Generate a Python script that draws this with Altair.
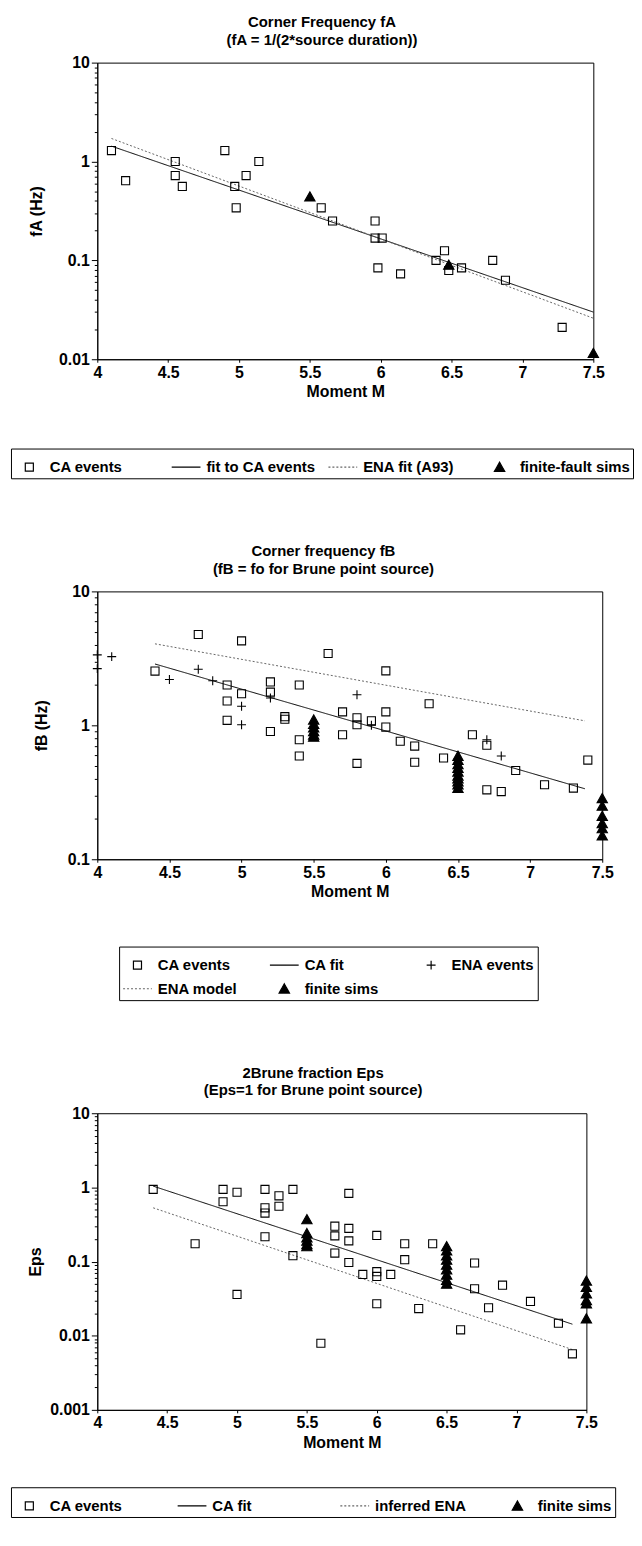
import altair as alt
import pandas as pd

FONT = "Liberation Sans"

# ---------------- Panel 1 : Corner Frequency fA ----------------
p1_series = ["CA events", "fit to CA events", "ENA fit (A93)", "finite-fault sims"]
p1_ca_m = [4.1, 4.2, 4.55, 4.55, 4.6, 4.9, 4.97, 4.98, 5.05, 5.14, 5.58, 5.66,
           5.96, 5.96, 6.01, 5.98, 6.14, 6.39, 6.45, 6.48, 6.57, 6.79, 6.88, 7.28]
p1_ca_f = [1.29, 0.64, 1.0, 0.72, 0.56, 1.29, 0.56, 0.34, 0.72, 1.0, 0.34, 0.25,
           0.25, 0.168, 0.168, 0.084, 0.073, 0.1, 0.125, 0.079, 0.084, 0.1, 0.063, 0.021]
p1_sim_m = [5.5, 6.48, 7.5]
p1_sim_f = [0.44, 0.09, 0.0115]
p1_fit_m = [4.1, 7.5]
p1_fit_f = [1.43, 0.030]
p1_ena_m = [4.1, 7.5]
p1_ena_f = [1.71, 0.026]

# ---------------- Panel 2 : Corner frequency fB ----------------
p2_series = ["CA events", "CA fit", "ENA events", "ENA model", "finite sims"]
p2_ca_m = [4.4, 4.7, 4.9, 4.9, 4.9, 5.0, 5.0, 5.2, 5.2, 5.2, 5.3, 5.3, 5.4, 5.4, 5.4,
           5.6, 5.7, 5.7, 5.8, 5.8, 5.8, 5.9, 6.0, 6.0, 6.0, 6.1, 6.2, 6.2, 6.3, 6.4,
           6.6, 6.7, 6.7, 6.8, 6.9, 7.1, 7.3, 7.4]
p2_ca_f = [2.54, 4.77, 2.0, 1.52, 1.09, 4.27, 1.72, 2.11, 1.77, 0.90, 1.16, 1.11, 2.0, 0.78, 0.59,
           3.44, 1.26, 0.85, 1.14, 1.01, 0.52, 1.08, 2.55, 1.26, 0.97, 0.76, 0.70, 0.53, 1.45, 0.57,
           0.85, 0.71, 0.33, 0.32, 0.46, 0.36, 0.34, 0.55]
p2_ena_m = [4.0, 4.0, 4.1, 4.5, 4.7, 4.8, 5.0, 5.0, 5.2, 5.8, 5.9, 6.7, 6.8]
p2_ena_f = [3.36, 2.65, 3.26, 2.2, 2.62, 2.15, 1.39, 1.01, 1.6, 1.69, 1.0, 0.78, 0.59]
p2_sim_m = [5.5, 5.5, 5.5, 5.5, 5.5, 5.5,
            6.5, 6.5, 6.5, 6.5, 6.5, 6.5, 6.5, 6.5, 6.5, 6.5,
            7.5, 7.5, 7.5, 7.5, 7.5, 7.5]
p2_sim_f = [1.1, 1.02, 0.96, 0.9, 0.85, 0.82,
            0.59, 0.55, 0.51, 0.48, 0.45, 0.42, 0.40, 0.38, 0.36, 0.34,
            0.285, 0.25, 0.21, 0.185, 0.17, 0.15]
p2_fit_m = [4.4, 7.38]
p2_fit_f = [2.87, 0.336]
p2_model_m = [4.4, 7.38]
p2_model_f = [4.06, 1.08]

# ---------------- Panel 3 : 2Brune fraction Eps ----------------
p3_series = ["CA events", "CA fit", "inferred ENA", "finite sims"]
p3_ca_m = [4.4, 4.7, 4.9, 4.9, 5.0, 5.0, 5.2, 5.2, 5.2, 5.2, 5.3, 5.3, 5.4, 5.4, 5.6,
           5.7, 5.7, 5.7, 5.8, 5.8, 5.8, 5.8, 5.9, 6.0, 6.0, 6.0, 6.0, 6.1, 6.2, 6.2,
           6.3, 6.4, 6.6, 6.7, 6.7, 6.8, 6.9, 7.1, 7.3, 7.4]
p3_ca_e = [0.94, 0.174, 0.94, 0.64, 0.86, 0.036, 0.94, 0.53, 0.45, 0.216, 0.77, 0.556, 0.94, 0.12, 0.0079,
           0.30, 0.222, 0.13, 0.83, 0.28, 0.19, 0.097, 0.067, 0.225, 0.073, 0.063, 0.027, 0.067, 0.174, 0.106,
           0.0232, 0.174, 0.012, 0.0956, 0.043, 0.0238, 0.048, 0.029, 0.0147, 0.0057]
p3_sim_m = [5.5, 5.5, 5.5, 5.5, 5.5, 5.5,
            6.5, 6.5, 6.5, 6.5, 6.5, 6.5, 6.5, 6.5, 6.5,
            7.5, 7.5, 7.5, 7.5, 7.5, 7.5]
p3_sim_e = [0.37, 0.24, 0.21, 0.19, 0.17, 0.16,
            0.16, 0.14, 0.12, 0.105, 0.09, 0.078, 0.066, 0.056, 0.05,
            0.055, 0.045, 0.037, 0.03, 0.027, 0.017]
p3_fit_m = [4.4, 7.4]
p3_fit_e = [1.04, 0.0143]
p3_ena_m = [4.4, 7.4]
p3_ena_e = [0.53, 0.0065]

# ---------------- axis tick labels ----------------
x_ticks = [4, 4.5, 5, 5.5, 6, 6.5, 7, 7.5]
minor_mult = [1, 2, 3, 4, 5, 6, 7, 8, 9]
p1_decades = [0.01, 0.1, 1, 10]
p2_decades = [0.1, 1, 10]
p3_decades = [0.001, 0.01, 0.1, 1, 10]

# symbol shapes (unit square -1..1, drawn at one common symbol size)
SYM_SIZE = 841
SQUARE = "M-0.28,-0.28H0.28V0.28H-0.28Z"
TRIANGLE = "M0,-0.34L0.36,0.3L-0.36,0.3Z"
PLUS = "M-0.31,0H0.31M0,-0.31V0.31"
LINE = "stroke"


def log_ticks(decades):
    vals = []
    for d in decades[:-1]:
        for k in minor_mult:
            vals.append(round(d * k, 6))
    vals.append(decades[-1])
    return vals


def frame(pairs):
    rows = []
    for ms, vs, name in pairs:
        for m, v in zip(ms, vs):
            rows.append({"M": m, "v": v, "series": name})
    return pd.DataFrame(rows)


IS_DECADE = "abs(log(datum.value)/LN10 - round(log(datum.value)/LN10)) < 0.001"


def panel(pts, lines, series, shapes, fills, strokes, dashes, ydomain, decades,
          ytitle, ytitle_pad, title, subtitle,
          width, height, lx, ly, cols, colpad):
    leg = alt.Legend(orient="none", legendX=lx, legendY=ly, direction="horizontal",
                     columns=cols, title=None, strokeColor="black", padding=3,
                     gridAlign="all", columnPadding=colpad, rowPadding=0,
                     labelFont=FONT, labelFontSize=15, labelFontWeight="bold",
                     labelColor="black", labelOffset=5, labelLimit=400,
                     symbolSize=SYM_SIZE, symbolStrokeWidth=1.2)
    x = alt.X("M:Q", scale=alt.Scale(domain=[4, 7.5], nice=False, zero=False),
              axis=alt.Axis(values=x_ticks, format="~g", title="Moment M",
                            labelFlush=False, tickSize=3, grid=False,
                            labelPadding=2, titlePadding=4))
    y = alt.Y("v:Q", scale=alt.Scale(type="log", domain=ydomain, nice=False),
              axis=alt.Axis(values=log_ticks(decades), title=ytitle, grid=False,
                            labelExpr=IS_DECADE + " ? format(datum.value, '~g') : ''",
                            labelOverlap=False, labelPadding=2, titlePadding=ytitle_pad,
                            tickSize={"condition": {"test": IS_DECADE, "value": 6}, "value": 3}))
    sc = lambda rng: alt.Scale(type="ordinal", domain=series, range=rng)
    line_layer = alt.Chart(lines).mark_line(strokeWidth=1).encode(
        x=x, y=y,
        stroke=alt.Stroke("series:N", scale=sc(strokes), legend=leg),
        strokeDash=alt.StrokeDash("series:N", scale=sc(dashes), legend=leg),
    )
    point_layer = alt.Chart(pts).mark_point(filled=True, opacity=1, strokeWidth=1.1,
                                            size=SYM_SIZE).encode(
        x=x, y=y,
        shape=alt.Shape("series:N", scale=sc(shapes), legend=leg),
        fill=alt.Fill("series:N", scale=sc(fills), legend=leg),
        stroke=alt.Stroke("series:N", scale=sc(strokes), legend=leg),
    )
    return alt.layer(line_layer, point_layer).properties(
        width=width, height=height,
        title=alt.Title(title, subtitle=subtitle, fontSize=15, subtitleFontSize=15,
                        fontWeight="bold", subtitleFontWeight="bold",
                        font=FONT, subtitleFont=FONT,
                        color="black", subtitleColor="black", frame="bounds",
                        anchor="middle", subtitlePadding=3, offset=7),
    )


p1 = panel(
    frame([(p1_ca_m, p1_ca_f, p1_series[0]), (p1_sim_m, p1_sim_f, p1_series[3])]),
    frame([(p1_fit_m, p1_fit_f, p1_series[1]), (p1_ena_m, p1_ena_f, p1_series[2])]),
    p1_series,
    [SQUARE, LINE, LINE, TRIANGLE],
    ["transparent", "transparent", "transparent", "black"],
    ["black", "black", "#666666", "black"],
    [[1, 0], [1, 0], [2, 2], [1, 0]],
    [0.01, 10], p1_decades, "fA (Hz)", 14,
    "Corner Frequency fA", "(fA = 1/(2*source duration))",
    500, 299, -87, 389, 4, 9)

p2 = panel(
    frame([(p2_ca_m, p2_ca_f, p2_series[0]), (p2_ena_m, p2_ena_f, p2_series[2]),
           (p2_sim_m, p2_sim_f, p2_series[4])]),
    frame([(p2_fit_m, p2_fit_f, p2_series[1]), (p2_model_m, p2_model_f, p2_series[3])]),
    p2_series,
    [SQUARE, LINE, PLUS, LINE, TRIANGLE],
    ["transparent", "transparent", "transparent", "transparent", "black"],
    ["black", "black", "black", "#666666", "black"],
    [[1, 0], [1, 0], [1, 0], [2, 2], [1, 0]],
    [0.1, 10], p2_decades, "fB (Hz)", 18,
    "Corner frequency fB", "(fB = fo for Brune point source)",
    509, 270, 22, 358, 3, 26)

p3 = panel(
    frame([(p3_ca_m, p3_ca_e, p3_series[0]), (p3_sim_m, p3_sim_e, p3_series[3])]),
    frame([(p3_fit_m, p3_fit_e, p3_series[1]), (p3_ena_m, p3_ena_e, p3_series[2])]),
    p3_series,
    [SQUARE, LINE, LINE, TRIANGLE],
    ["transparent", "transparent", "transparent", "black"],
    ["black", "black", "#666666", "black"],
    [[1, 0], [1, 0], [2, 2], [1, 0]],
    [0.001, 10], p3_decades, "Eps", 6,
    "2Brune fraction Eps", "(Eps=1 for Brune point source)",
    493, 299, -87, 377, 4, 34)

chart = alt.vconcat(p1, p2, p3, spacing=64).resolve_scale(
    shape="independent", fill="independent", stroke="independent",
    strokeDash="independent",
).resolve_legend(
    shape="independent", fill="independent", stroke="independent",
    strokeDash="independent",
).properties(
    padding={"left": 2, "top": 0, "right": 0, "bottom": 0},
).configure(font=FONT).configure_view(
    stroke="black", strokeWidth=1,
).configure_axis(
    labelFont=FONT, titleFont=FONT, labelFontSize=16, titleFontSize=16,
    labelFontWeight="bold", titleFontWeight="bold",
    labelColor="black", titleColor="black",
    domainColor="black", tickColor="black", domainWidth=1, tickWidth=1,
)

chart.save("out.html", embed_options={"renderer": "svg", "actions": False})
